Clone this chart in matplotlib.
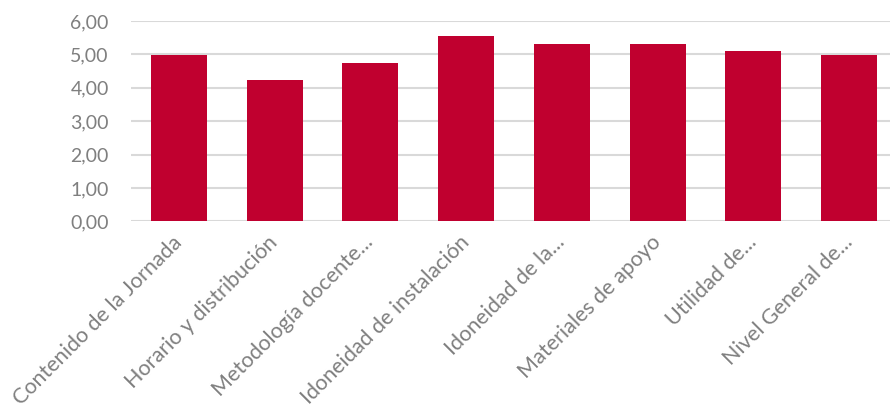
import matplotlib.pyplot as plt
import numpy as np

categories = ['Contenido de la Jornada', 'Horario y distribución', 'Metodología docente...',
              'Idoneidad de instalación', 'Idoneidad de la...', 'Materiales de apoyo',
              'Utilidad de...', 'Nivel General de...']
values = [4.98, 4.23, 4.73, 5.54, 5.30, 5.30, 5.09, 4.98]
y_ticks = [0, 1, 2, 3, 4, 5, 6]
y_labels = ['0,00', '1,00', '2,00', '3,00', '4,00', '5,00', '6,00']

plt.rcParams['font.family'] = ['Lato', 'DejaVu Sans']

fig = plt.figure(figsize=(8.9, 4.17), dpi=100)
# axes placed in figure pixels: left 131, top 21, bottom 221
ax = fig.add_axes([131 / 890, 1 - 221.3 / 417, 766 / 890, 200.3 / 417])

x = np.arange(len(categories))
ax.bar(x, values, width=0.585, color='#C0002F', zorder=3)

ax.set_xlim(-0.5, len(categories) - 0.5)
ax.set_ylim(0, 6)
ax.set_yticks(y_ticks)
ax.set_yticklabels(y_labels)
ax.set_xticks(x)
ax.set_xticklabels(categories, rotation=45, ha='right', va='center', rotation_mode='anchor')

ax.grid(axis='y', color='#d9d9d9', linewidth=1.5, zorder=0)
for s in ax.spines.values():
    s.set_visible(False)
ax.tick_params(axis='both', length=0, colors='#7f7f7f')
ax.tick_params(axis='y', pad=16, labelsize=14)
ax.tick_params(axis='x', pad=13, labelsize=15.5)

fig.savefig('out.png', dpi=100)
